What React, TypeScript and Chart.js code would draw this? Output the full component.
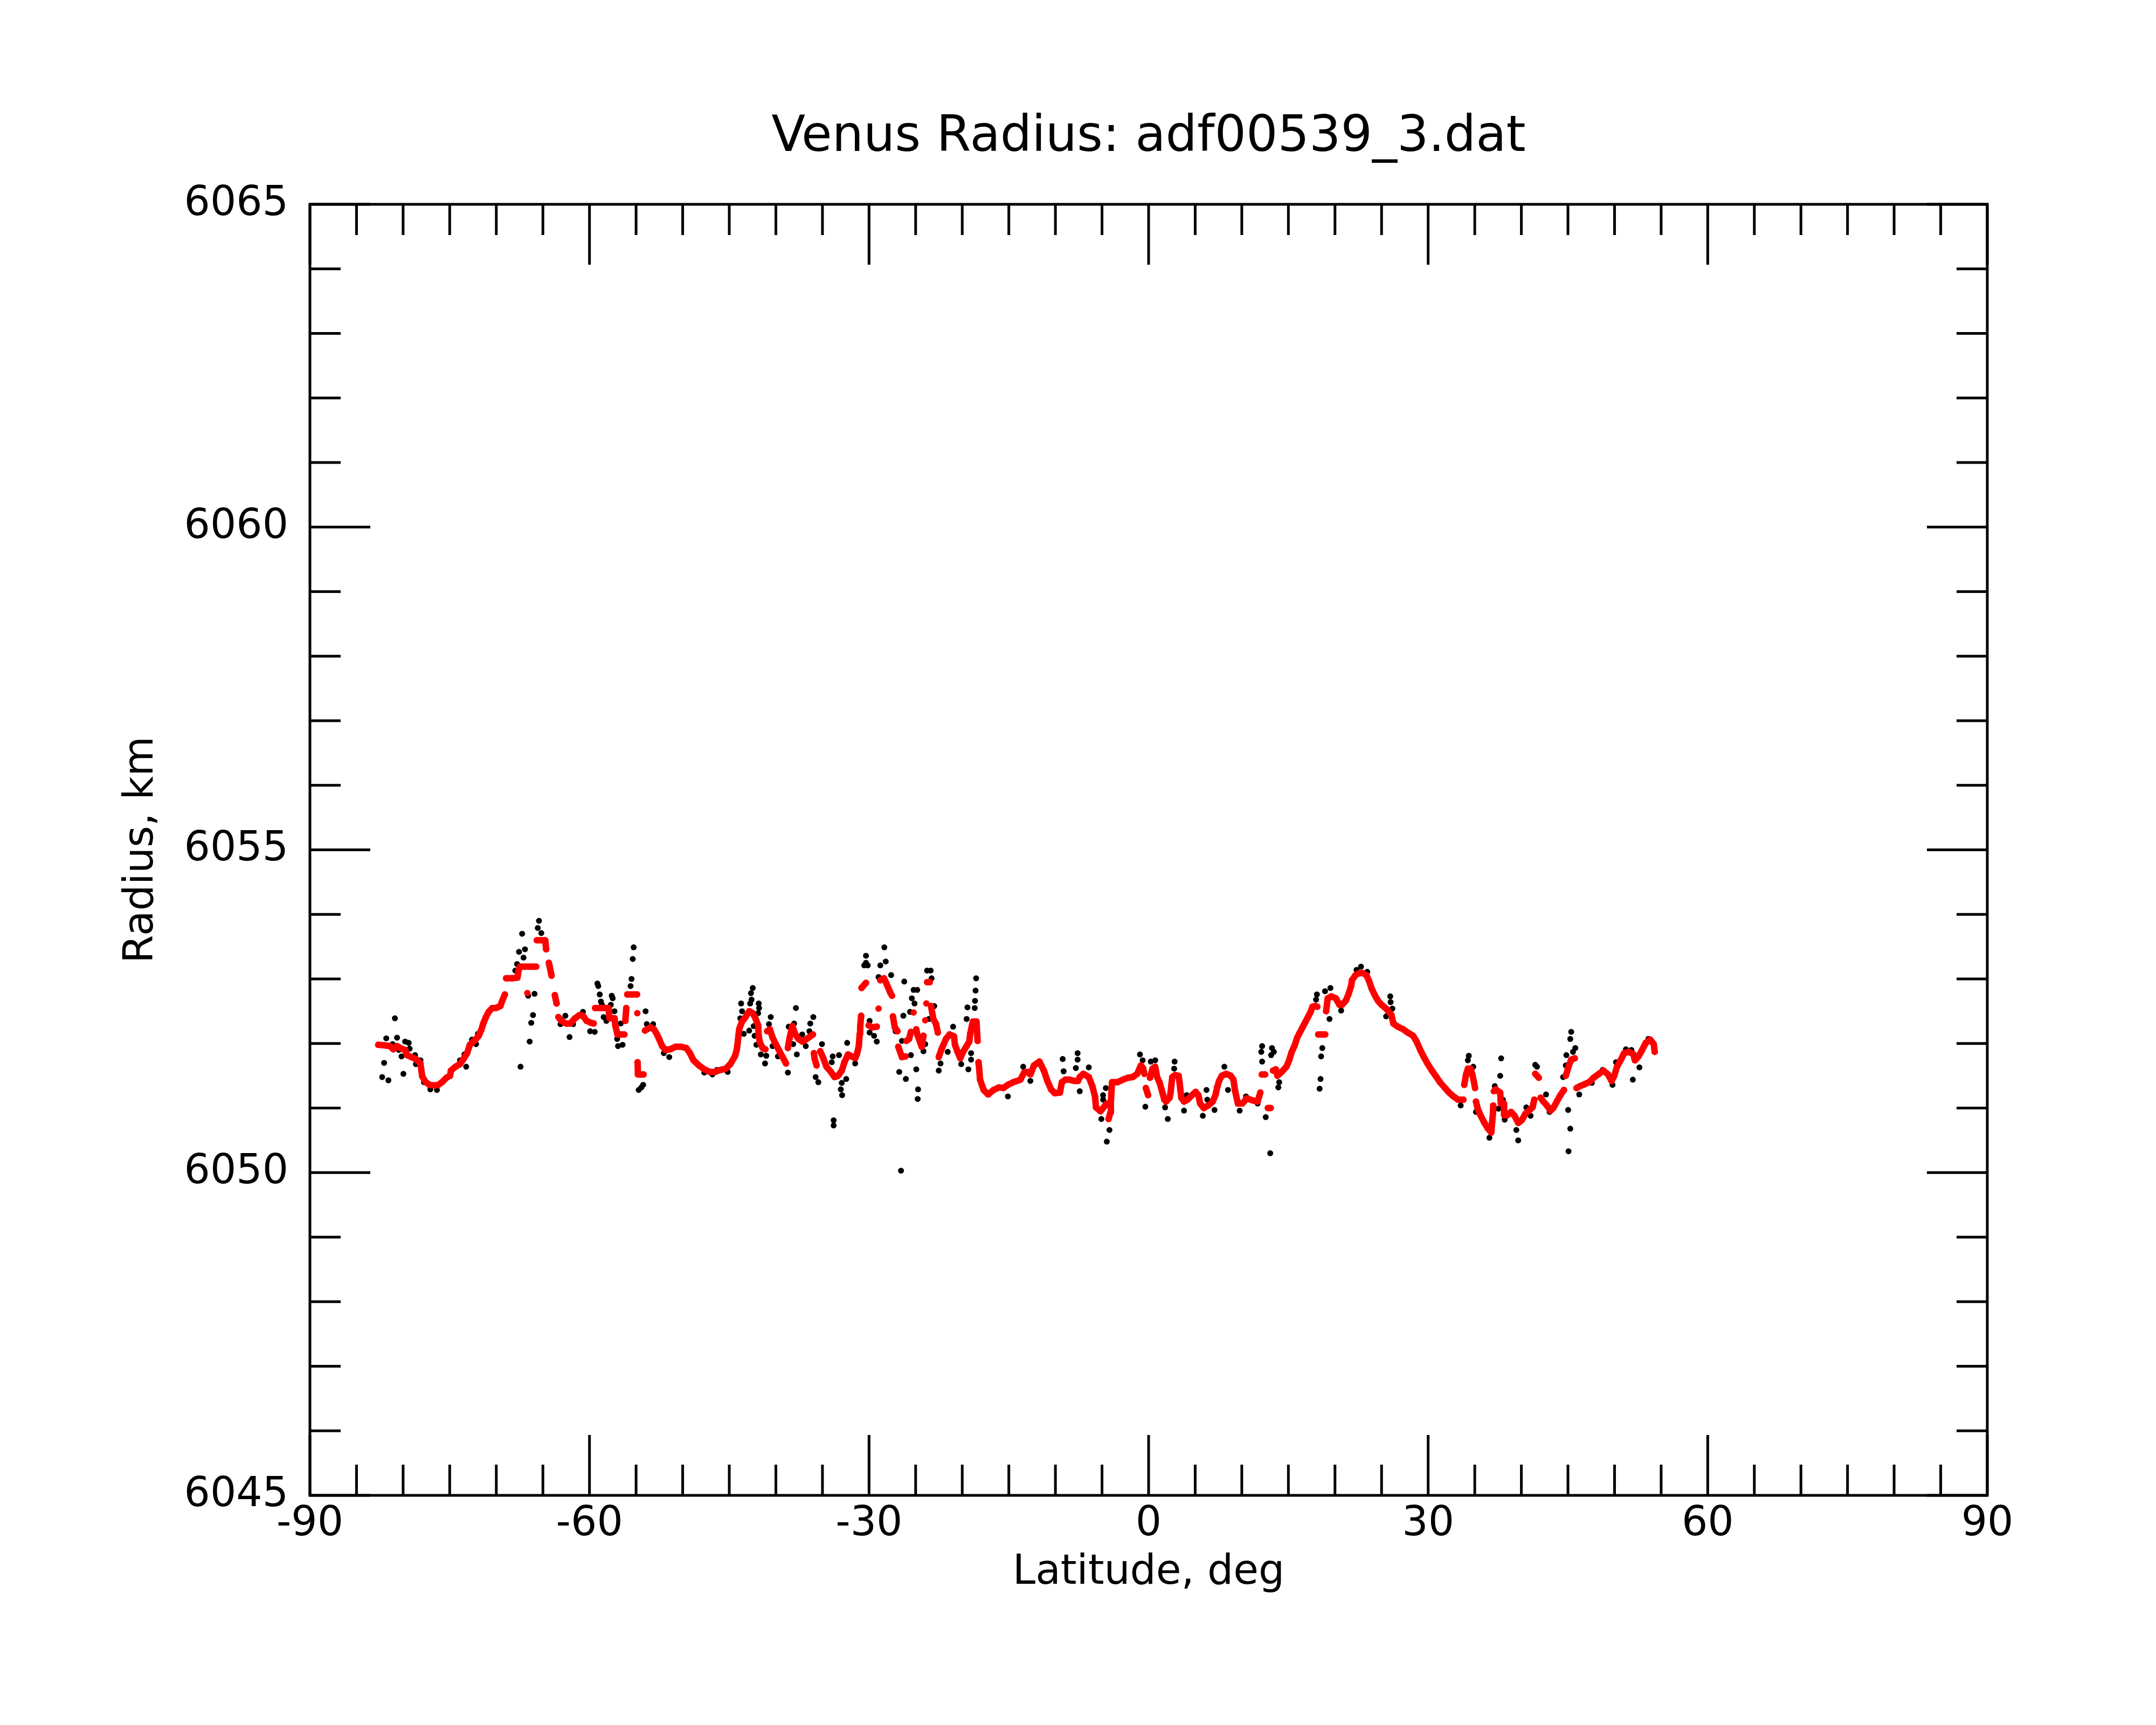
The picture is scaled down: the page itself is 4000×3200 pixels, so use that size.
import { useEffect, useRef } from 'react';
import { Chart, registerables } from 'chart.js';

Chart.register(...registerables);

const chartTitle = 'Venus Radius: adf00539_3.dat';
const xTitle = 'Latitude, deg';
const yTitle = 'Radius, km';

const latitudeTicks = [-90, -60, -30, 0, 30, 60, 90];
const radiusTicks = [6045, 6050, 6055, 6060, 6065];
const latMinorStep = 5;
const radiusMinorStep = 1;

// red (smoothed) series
const smoothLat = [
  -82.67, -82.0, -81.42, -81.04, -80.65, -80.17, -79.78, -79.59, -79.11, -78.63, -78.14, -77.95, -77.57, -77.18,
  -76.6, -76.22, -75.83, -75.35, -74.96, -74.87, -74.38, -73.9, -73.52, -73.13, -72.84, -72.36, -71.88, -71.59,
  -71.4, -71.11, -70.82, -70.43, -70.05, -69.56, -69.37, -69.08, -68.95, -68.3, -67.73, -67.6, -67.45, -66.8,
  -66.67, -66.55, -65.72, -65.65, -64.75, -64.65, -64.36, -64.07, -63.72, -63.53, -63.34, -63.01, -62.53, -62.05,
  -61.56, -61.08, -60.7, -60.31, -59.83, -59.55, -59.4, -57.95, -57.85, -57.3, -57.23, -57.0, -56.25, -56.15,
  -56.05, -55.95, -54.9, -54.87, -54.84, -54.8, -54.2, -54.05, -53.46, -53.08, -52.79, -52.5, -52.21, -51.83,
  -51.34, -50.76, -50.19, -49.61, -49.22, -48.84, -48.26, -47.68, -47.1, -46.52, -45.95, -45.37, -44.89, -44.4,
  -44.2, -44.11, -44.02, -43.92, -43.63, -43.25, -42.86, -42.48, -42.19, -41.9, -41.85, -41.7, -41.41, -41.13,
  -40.93, -40.64, -40.35, -39.97, -39.58, -39.2, -38.91, -38.71, -38.52, -38.23, -37.94, -37.56, -37.17, -36.79,
  -36.31, -36.02, -35.92, -35.83, -35.63, -35.24, -34.96, -34.57, -34.09, -33.7, -33.32, -32.93, -32.64, -32.25,
  -31.87, -31.49, -31.29, -31.1, -31.0, -30.95, -30.85, -30.81, -30.33, -30.04, -29.65, -29.17, -28.98, -28.79,
  -28.4, -28.11, -27.73, -27.53, -27.44, -27.24, -26.95, -26.86, -26.47, -26.09, -25.99, -25.7, -25.51, -25.22,
  -24.93, -24.83, -24.54, -24.35, -24.16, -23.97, -23.85, -23.77, -23.48, -23.35, -23.1, -22.81, -22.62, -22.52,
  -22.23, -21.75, -21.36, -20.88, -20.78, -20.5, -20.21, -19.92, -19.53, -19.24, -19.15, -18.86, -18.47, -18.4,
  -18.35, -18.25, -18.18, -18.09, -17.7, -17.22, -16.64, -16.06, -15.58, -15.1, -14.52, -13.75, -13.36, -12.98,
  -12.69, -12.3, -11.72, -11.24, -10.86, -10.47, -10.08, -9.51, -9.31, -8.93, -8.54, -7.96, -7.58, -7.39,
  -7.0, -6.42, -6.04, -5.75, -5.65, -5.17, -4.49, -4.3, -4.1, -4.05, -4.0, -3.92, -3.34, -2.76,
  -2.18, -1.71, -1.22, -0.83, -0.6, -0.45, -0.3, -0.05, 0.15, 0.42, 0.71, 0.91, 1.19, 1.48,
  1.68, 1.87, 2.25, 2.35, 2.45, 2.54, 2.83, 3.22, 3.32, 3.41, 3.51, 3.8, 4.18, 4.66,
  5.05, 5.34, 5.53, 5.92, 6.4, 6.88, 7.17, 7.36, 7.56, 7.85, 8.33, 8.81, 9.1, 9.29,
  9.58, 10.06, 10.54, 11.12, 11.7, 11.99, 12.15, 12.5, 12.8, 13.1, 13.35, 13.65, 13.82, 14.21,
  14.79, 15.08, 15.36, 15.65, 15.94, 16.23, 16.52, 16.81, 17.1, 17.39, 17.58, 17.87, 18.1, 18.2,
  18.95, 19.05, 19.22, 19.61, 20.09, 20.47, 20.76, 21.15, 21.44, 21.73, 21.82, 22.21, 22.59, 22.98,
  23.37, 23.65, 23.94, 24.23, 24.62, 25.0, 25.49, 26.06, 26.26, 26.74, 27.32, 27.8, 28.38, 28.76,
  29.15, 29.54, 29.92, 30.4, 30.89, 31.27, 31.75, 32.24, 32.72, 33.2, 33.78, 33.87, 34.07, 34.26,
  34.55, 34.74, 34.93, 35.03, 35.13, 35.32, 35.61, 36.0, 36.38, 36.77, 36.86, 36.96, 36.98, 37.05,
  37.25, 37.73, 37.8, 38.12, 38.15, 38.5, 38.89, 39.27, 39.66, 40.04, 40.43, 40.81, 41.2, 41.39,
  41.49, 41.87, 42.07, 42.36, 42.74, 43.13, 43.42, 43.8, 44.19, 44.57, 44.77, 45.06, 45.35, 45.73,
  45.92, 46.31, 46.79, 47.27, 47.75, 48.33, 48.81, 49.3, 49.68, 49.97, 50.26, 50.65, 51.03, 51.51,
  52.0, 52.19, 52.57, 52.96, 53.35, 53.83, 54.21, 54.31,
];
const smoothRadius = [
  6051.98, 6051.97, 6051.96, 6051.91, 6051.96, 6051.92, 6051.9, 6051.82, 6051.79, 6051.76, 6051.69, 6051.49, 6051.4, 6051.36,
  6051.35, 6051.36, 6051.4, 6051.47, 6051.5, 6051.58, 6051.64, 6051.68, 6051.76, 6051.85, 6051.98, 6052.04, 6052.12, 6052.22,
  6052.31, 6052.41, 6052.49, 6052.55, 6052.55, 6052.58, 6052.66, 6052.76, 6053.01, 6053.01, 6053.02, 6053.14, 6053.19, 6053.19,
  6052.78, 6053.19, 6053.19, 6053.6, 6053.6, 6053.46, 6053.25, 6053.05, 6052.75, 6052.62, 6052.41, 6052.35, 6052.31, 6052.31,
  6052.39, 6052.44, 6052.43, 6052.35, 6052.32, 6052.31, 6052.55, 6052.55, 6052.39, 6052.39, 6052.28, 6052.14, 6052.14, 6052.35,
  6052.55, 6052.76, 6052.76, 6052.47, 6051.71, 6051.52, 6051.52, 6052.2, 6052.25, 6052.22, 6052.15, 6052.06, 6051.96, 6051.9,
  6051.91, 6051.95, 6051.95, 6051.93, 6051.85, 6051.74, 6051.66, 6051.6, 6051.56, 6051.56, 6051.59, 6051.61, 6051.68, 6051.8,
  6051.9, 6051.99, 6052.12, 6052.23, 6052.34, 6052.41, 6052.5, 6052.47, 6052.39, 6052.28, 6052.12, 6052.01, 6051.93, 6051.91,
  6052.19, 6052.22, 6052.09, 6051.98, 6051.87, 6051.77, 6051.69, 6051.93, 6052.09, 6052.27, 6052.15, 6052.07, 6052.03, 6052.06,
  6052.11, 6052.14, 6051.85, 6051.76, 6051.66, 6051.88, 6051.79, 6051.64, 6051.56, 6051.48, 6051.5, 6051.58, 6051.71, 6051.83,
  6051.8, 6051.77, 6051.84, 6051.96, 6052.15, 6052.26, 6052.43, 6052.86, 6052.94, 6052.28, 6052.25, 6052.26, 6052.54, 6052.98,
  6053.01, 6052.92, 6052.79, 6052.74, 6052.42, 6052.25, 6052.19, 6051.95, 6051.79, 6051.8, 6052.04, 6052.07, 6052.18, 6052.48,
  6052.22, 6052.14, 6052.03, 6051.95, 6052.12, 6052.36, 6052.62, 6052.95, 6052.95, 6052.58, 6052.38, 6052.3, 6052.17, 6051.79,
  6051.91, 6052.07, 6052.14, 6052.11, 6051.98, 6051.87, 6051.77, 6051.87, 6051.96, 6052.03, 6052.15, 6052.34, 6052.34, 6052.15,
  6052.04, 6051.71, 6051.61, 6051.44, 6051.28, 6051.21, 6051.28, 6051.32, 6051.31, 6051.36, 6051.4, 6051.44, 6051.55, 6051.56,
  6051.52, 6051.66, 6051.72, 6051.58, 6051.42, 6051.29, 6051.23, 6051.24, 6051.4, 6051.44, 6051.44, 6051.42, 6051.42, 6051.48,
  6051.53, 6051.48, 6051.34, 6051.18, 6051.01, 6050.95, 6051.07, 6050.83, 6050.93, 6051.07, 6051.23, 6051.4, 6051.4, 6051.44,
  6051.47, 6051.48, 6051.53, 6051.66, 6051.62, 6051.53, 6051.31, 6051.2, 6051.47, 6051.61, 6051.64, 6051.48, 6051.39, 6051.24,
  6051.13, 6051.1, 6051.16, 6051.23, 6051.36, 6051.48, 6051.51, 6051.5, 6051.4, 6051.28, 6051.16, 6051.1, 6051.13, 6051.2,
  6051.25, 6051.2, 6051.07, 6051.0, 6051.04, 6051.1, 6051.2, 6051.32, 6051.42, 6051.5, 6051.53, 6051.5, 6051.44, 6051.26,
  6051.07, 6051.07, 6051.15, 6051.12, 6051.1, 6051.24, 6051.52, 6051.52, 6051.0, 6051.0, 6051.58, 6051.6, 6051.5, 6051.55,
  6051.64, 6051.74, 6051.87, 6051.96, 6052.09, 6052.17, 6052.25, 6052.33, 6052.41, 6052.49, 6052.57, 6052.58, 6052.57, 6052.14,
  6052.14, 6052.5, 6052.7, 6052.73, 6052.7, 6052.6, 6052.6, 6052.66, 6052.76, 6052.89, 6052.98, 6053.06, 6053.09, 6053.09,
  6053.06, 6052.97, 6052.85, 6052.76, 6052.66, 6052.6, 6052.54, 6052.44, 6052.31, 6052.26, 6052.22, 6052.17, 6052.12, 6052.03,
  6051.9, 6051.79, 6051.69, 6051.58, 6051.48, 6051.4, 6051.32, 6051.24, 6051.18, 6051.13, 6051.13, 6051.36, 6051.52, 6051.61,
  6051.61, 6051.52, 6051.39, 6051.31, 6051.1, 6050.99, 6050.89, 6050.78, 6050.69, 6050.62, 6050.77, 6050.93, 6051.04, 6051.26,
  6051.29, 6051.24, 6051.07, 6051.07, 6050.89, 6050.89, 6050.94, 6050.88, 6050.77, 6050.81, 6050.91, 6050.96, 6051.01, 6051.13,
  6051.53, 6051.47, 6051.16, 6051.1, 6051.04, 6050.96, 6051.0, 6051.1, 6051.2, 6051.28, 6051.5, 6051.64, 6051.75, 6051.77,
  6051.31, 6051.34, 6051.37, 6051.4, 6051.47, 6051.53, 6051.58, 6051.52, 6051.42, 6051.5, 6051.64, 6051.74, 6051.85, 6051.87,
  6051.84, 6051.74, 6051.8, 6051.9, 6052.01, 6052.06, 6051.99, 6051.87,
];

// black (raw) series
const rawLat = [
  -80.88, -81.81, -80.65, -79.78, -79.4, -79.3, -82.04, -82.25, -81.58, -79.97, -80.17, -80.46, -81.13, -78.72,
  -78.63, -78.14, -77.76, -77.08, -76.37, -73.23, -72.61, -72.17, -71.97, -73.9, -73.42, -67.23, -65.42, -65.55,
  -65.17, -67.56, -66.92, -67.08, -67.77, -67.96, -65.9, -66.58, -66.06, -66.25, -66.42, -67.4, -64.36, -62.59,
  -62.14, -63.11, -61.76, -60.7, -59.93, -59.44, -59.15, -59.06, -58.9, -58.77, -58.67, -58.48, -58.19, -57.71,
  -57.61, -57.51, -57.32, -56.94, -56.45, -57.03, -56.65, -55.26, -55.36, -55.49, -55.59, -55.88,
  -53.98, -54.72, -54.43, -54.24, -53.85, -53.17, -52.02, -51.44, -47.68, -46.81, -46.33, -45.17, -43.73, -43.82,
  -43.63, -43.44, -42.86, -42.76, -42.67, -42.61, -42.48, -41.84, -41.8, -41.9, -42.38, -42.28, -42.09, -41.61,
  -41.03, -41.16, -40.55, -40.74, -40.35, -39.78, -38.71, -37.85, -38.04, -38.62, -38.14, -37.75, -37.17, -36.79,
  -35.98, -36.31, -36.4, -35.05, -35.73, -35.44, -33.9, -34.0, -33.22, -32.35, -32.45, -32.93, -33.03, -32.89,
  -33.8, -33.8, -31.49, -30.33, -30.33, -30.52, -30.14, -29.94, -29.94, -29.46, -29.17, -28.36, -28.21, -28.79,
  -27.63, -28.98,
  -26.22, -23.77, -23.39, -23.29, -25.22, -24.83, -25.41, -25.12, -25.6, -26.32, -27.15, -26.47, -25.51, -26.76,
  -26.05, -24.93, -24.74, -24.78, -26.57, -24.16, -23.97, -23.0, -23.58, -22.52, -22.33, -21.56, -20.98, -20.11,
  -19.34, -19.05, -19.05, -19.44, -19.53, -18.66, -18.63, -18.57, -18.51, -15.1, -13.46, -12.69, -9.22, -9.12,
  -7.62, -7.62, -7.81, -6.42, -7.39, -4.59, -4.89, -4.88, -5.07, -4.2, -4.49, -0.93, -0.35, 0.23,
  -0.64, 0.71, 1.77, 2.06, 2.79, 2.74, 3.8, 4.09, 5.15, 5.82, 6.21, 6.3, 7.07, 8.13,
  8.52, 9.77, 10.45, 11.7, 12.18, 12.09, 12.18, 13.24, 13.44, 13.15, 12.57, 13.05, 13.92, 14.01,
  18.06, 17.97, 18.93, 19.51, 19.41, 18.64, 18.51, 18.45, 18.35, 20.66, 22.79, 22.31, 23.46, 25.93,
  25.97, 26.16, 25.49,
  34.36, 34.26, 34.84, 33.49, 35.13, 36.57, 37.83, 37.73, 37.15, 37.54, 38.02, 38.21, 39.66, 39.46,
  40.53, 40.99, 41.49, 41.68, 42.65, 43.03, 45.35, 45.25, 45.79, 45.54, 44.83, 44.77, 44.48, 45.02,
  45.25, 45.06, 46.21, 47.56, 48.72, 49.78, 50.16, 51.22, 51.81, 51.96, 52.67, 53.63,
];
const rawRadius = [
  6052.39, 6052.08, 6052.09, 6052.03, 6052.01, 6051.92, 6051.7, 6051.48, 6051.43, 6051.53, 6051.8, 6051.9, 6051.99, 6051.82,
  6051.68, 6051.74, 6051.4, 6051.29, 6051.28, 6051.64, 6052.06, 6051.99, 6052.15, 6051.74, 6051.83, 6053.7, 6053.9, 6053.79,
  6053.71, 6053.42, 6053.46, 6053.33, 6053.23, 6053.13, 6052.77, 6052.74, 6052.44, 6052.32, 6052.03, 6051.64, 6053.24, 6052.43,
  6052.1, 6052.3, 6052.3, 6052.49, 6052.19, 6052.18, 6052.93, 6052.89, 6052.76, 6052.65, 6052.6, 6052.41, 6052.35, 6052.6,
  6052.74, 6052.7, 6052.5, 6051.96, 6051.98, 6052.07, 6052.31, 6053.49, 6053.31, 6053.0, 6052.89, 6052.76,
  6052.5, 6051.28, 6051.32, 6051.36, 6052.3, 6052.3, 6051.85, 6051.79, 6051.55, 6051.52, 6051.59, 6051.56, 6052.62, 6052.39,
  6052.5, 6052.15, 6052.2, 6052.62, 6052.78, 6052.68, 6052.86, 6052.62, 6052.55, 6052.47, 6052.27, 6052.12, 6051.98, 6051.83,
  6051.81, 6051.69, 6052.41, 6052.3, 6051.96, 6051.8, 6051.55, 6052.55, 6052.31, 6052.26, 6051.99, 6051.83, 6052.14, 6051.96,
  6052.41, 6052.31, 6052.19, 6051.99, 6051.48, 6051.4, 6051.8, 6051.71, 6051.82, 6052.01, 6051.45, 6051.39, 6051.29, 6051.2,
  6050.81, 6050.73, 6051.69, 6053.36, 6053.25, 6053.21, 6053.21, 6052.35, 6052.17, 6052.12, 6052.03, 6053.49, 6053.27, 6053.21,
  6053.06, 6053.03,
  6052.96, 6053.13, 6053.13, 6053.01, 6052.83, 6052.83, 6052.7, 6052.62, 6052.49, 6052.43, 6052.19, 6052.04, 6051.82, 6051.56,
  6051.45, 6051.6, 6051.29, 6051.14, 6050.03, 6051.88, 6051.99, 6052.58, 6052.38, 6051.58, 6051.69, 6051.87, 6052.26, 6051.68,
  6051.6, 6051.75, 6051.85, 6052.56, 6052.38, 6052.55, 6052.66, 6052.82, 6053.01, 6051.18, 6051.64, 6051.42, 6051.76, 6051.57,
  6051.85, 6051.75, 6051.62, 6051.63, 6051.26, 6051.31, 6051.2, 6051.13, 6050.83, 6050.66, 6050.48, 6051.83, 6051.02, 6051.72,
  6051.74, 6051.74, 6051.01, 6050.83, 6051.72, 6051.61, 6050.96, 6051.2, 6051.23, 6050.88, 6051.28, 6051.13, 6050.97, 6051.64,
  6051.28, 6050.96, 6051.18, 6051.07, 6051.96, 6051.87, 6051.72, 6051.93, 6051.87, 6051.82, 6050.86, 6050.3, 6051.32, 6051.4,
  6052.76, 6052.68, 6052.81, 6052.86, 6052.38, 6051.93, 6051.8, 6051.45, 6051.3, 6052.51, 6053.19, 6053.14, 6053.11, 6052.73,
  6052.64, 6052.54, 6052.42,
  6051.81, 6051.74, 6051.64, 6051.04, 6050.94, 6050.54, 6051.77, 6051.5, 6051.34, 6050.99, 6051.13, 6050.82, 6050.5, 6050.66,
  6051.01, 6050.88, 6051.67, 6051.64, 6051.21, 6050.94, 6052.18, 6052.07, 6051.93, 6051.87, 6051.82, 6051.66, 6051.48, 6050.97,
  6050.68, 6050.33, 6051.21, 6051.39, 6051.59, 6051.36, 6051.71, 6051.91, 6051.9, 6051.44, 6051.63, 6052.07,
];

const FONT = "'DejaVu Sans', sans-serif";
const JUMP_KM = 0.2;

const frameAndTicks = {
  id: 'frameAndTicks',
  afterDraw(chart: any) {
    const { ctx, chartArea: a, scales } = chart;
    const x = scales.x;
    const y = scales.y;
    ctx.save();
    ctx.strokeStyle = '#000';
    ctx.lineWidth = 5;
    ctx.lineCap = 'butt';
    ctx.beginPath();
    const xMin = latitudeTicks[0];
    const xMax = latitudeTicks[latitudeTicks.length - 1];
    for (let v = xMin; v <= xMax; v += latMinorStep) {
      const px = x.getPixelForValue(v);
      const len = latitudeTicks.includes(v) ? 112 : 57;
      ctx.moveTo(px, a.bottom);
      ctx.lineTo(px, a.bottom - len);
      ctx.moveTo(px, a.top);
      ctx.lineTo(px, a.top + len);
    }
    const yMin = radiusTicks[0];
    const yMax = radiusTicks[radiusTicks.length - 1];
    for (let v = yMin; v <= yMax; v += radiusMinorStep) {
      const py = y.getPixelForValue(v);
      const len = radiusTicks.includes(v) ? 112 : 57;
      ctx.moveTo(a.left, py);
      ctx.lineTo(a.left + len, py);
      ctx.moveTo(a.right, py);
      ctx.lineTo(a.right - len, py);
    }
    ctx.stroke();
    ctx.lineJoin = 'miter';
    ctx.strokeRect(a.left, a.top, a.right - a.left, a.bottom - a.top);
    ctx.restore();
  },
};

export default function App() {
  const ref = useRef<HTMLCanvasElement | null>(null);

  useEffect(() => {
    if (!ref.current) return;
    const smooth = smoothLat.map((v, i) => ({ x: v, y: smoothRadius[i] }));
    const raw = rawLat.map((v, i) => ({ x: v, y: rawRadius[i] }));
    const chart = new Chart(ref.current, {
      type: 'scatter',
      data: {
        datasets: [
          {
            label: 'smoothed',
            data: smooth,
            showLine: true,
            borderColor: '#ff0000',
            backgroundColor: '#ff0000',
            borderWidth: 12,
            borderCapStyle: 'round',
            borderJoinStyle: 'round',
            pointRadius: 6,
            pointBorderWidth: 0,
            pointBackgroundColor: '#ff0000',
            tension: 0,
            segment: {
              borderColor: (c: any) =>
                Math.abs(c.p1.parsed.y - c.p0.parsed.y) > JUMP_KM ? 'rgba(0,0,0,0)' : '#ff0000',
            },
          } as any,
          {
            label: 'raw',
            data: raw,
            showLine: false,
            pointRadius: 5.5,
            pointBorderWidth: 0,
            pointBackgroundColor: '#000000',
            backgroundColor: '#000000',
            borderColor: '#000000',
          },
        ],
      },
      options: {
        animation: false,
        responsive: false,
        devicePixelRatio: 1,
        layout: { padding: { top: 0, left: 0, right: 313, bottom: 226 }, autoPadding: false } as any,
        plugins: {
          legend: { display: false },
          tooltip: { enabled: false },
          title: {
            display: true,
            fullSize: false,
            text: chartTitle,
            color: '#000',
            font: { family: FONT, size: 92, weight: 'normal' },
            padding: { top: 201, bottom: 67.6 },
          } as any,
        },
        scales: {
          x: {
            type: 'linear',
            position: 'bottom',
            min: latitudeTicks[0],
            max: latitudeTicks[latitudeTicks.length - 1],
            afterBuildTicks: (s: any) => {
              s.ticks = latitudeTicks.map((v) => ({ value: v }));
            },
            afterFit: (s: any) => {
              s.height = 200;
            },
            ticks: {
              color: '#000',
              font: { family: FONT, size: 76 },
              padding: 9,
              maxRotation: 0,
              autoSkip: false,
              callback: (v: any) => String(v),
            },
            grid: { display: false, drawTicks: false },
            border: { display: false },
            title: {
              display: true,
              text: xTitle,
              color: '#000',
              font: { family: FONT, size: 76 },
              padding: { top: 0, bottom: 10 },
            },
          },
          y: {
            type: 'linear',
            position: 'left',
            min: radiusTicks[0],
            max: radiusTicks[radiusTicks.length - 1],
            afterBuildTicks: (s: any) => {
              s.ticks = radiusTicks.map((v) => ({ value: v }));
            },
            afterFit: (s: any) => {
              s.width = 575;
            },
            ticks: {
              color: '#000',
              font: { family: FONT, size: 76 },
              padding: 40,
              autoSkip: false,
              callback: (v: any) => String(v),
            },
            grid: { display: false, drawTicks: false },
            border: { display: false },
            title: {
              display: true,
              text: yTitle,
              color: '#000',
              font: { family: FONT, size: 76 },
              padding: { top: 218, bottom: 0 },
            },
          },
        },
      },
      plugins: [frameAndTicks],
    });
    return () => chart.destroy();
  }, []);

  return (
    <div style={{ position: 'absolute', left: 0, top: 0, width: 4000, height: 3200, background: '#fff' }}>
      <canvas ref={ref} width={4000} height={3200} style={{ width: 4000, height: 3200, display: 'block' }} />
    </div>
  );
}
